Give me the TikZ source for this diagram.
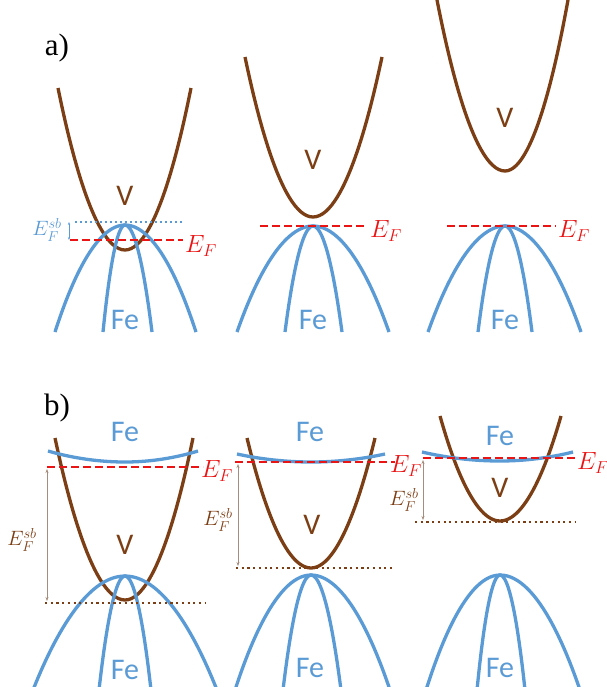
\documentclass[tikz,border=0pt]{standalone}
\usepackage{amsmath}
\usepackage{fontspec}
\setmainfont{Liberation Serif}
\setsansfont{Carlito}
\usetikzlibrary{arrows.meta}
\definecolor{vband}{RGB}{124,62,20}
\definecolor{feband}{RGB}{91,155,213}
\definecolor{fermi}{RGB}{235,20,20}
\definecolor{gapline}{RGB}{165,140,125}

\begin{document}
\begin{tikzpicture}[x=1pt,y=-1pt,
  vcurve/.style={vband, line width=3.3pt},
  fecurve/.style={feband, line width=3.3pt},
  efline/.style={fermi, line width=2.3pt, dash pattern=on 8pt off 4pt},
  sbline/.style={vband, line width=2.3pt, dash pattern=on 2.2pt off 3.5pt},
  bandlabel/.style={font=\sffamily\fontsize{30}{30}\selectfont},
  eflabel/.style={fermi, font=\fontsize{24}{24}\selectfont},
  sblabel/.style={vband, font=\fontsize{22}{22}\selectfont},
  panel/.style={font=\fontsize{31}{31}\selectfont}]
  \useasboundingbox (0,0) rectangle (606,687);

  % Panel labels
  \node[panel] (pa) at (57,48) {a)};
  \node[panel] (pb) at (57,408) {b)};

  % a) left: bands overlap
  \coordinate (a1v) at (125,250);
  \coordinate (a1f) at (125,225);
  \draw[vcurve] (58,88) parabola bend (a1v) (191,88);
  \draw[fecurve] (55,332) parabola bend (a1f) (196,332);
  \draw[fecurve] (103,332) parabola bend (a1f) (152,332);
  \draw[feband, line width=2pt, dash pattern=on 2pt off 3pt] (75,222) -- (182,222);
  \draw[efline] (70,240) -- (183,240);
  \draw[feband, line width=0.6pt, {Stealth[length=3pt]}-{Stealth[length=3pt]}] (69,222) -- (69,240);
  \node[bandlabel, vband] (a1vl) at (125,196) {V};
  \node[bandlabel, feband] (a1fl) at (125,320) {Fe};
  \node[eflabel] (a1ef) at (201,246) {$E_F$};
  \node[feband, font=\fontsize{22}{22}\selectfont] (a1sb) at (47,230) {$E_F^{sb}$};

  % a) middle: bands touch
  \coordinate (a2v) at (313,217);
  \coordinate (a2f) at (313,226);
  \draw[vcurve] (245,57) parabola bend (a2v) (382,57);
  \draw[fecurve] (237,332) parabola bend (a2f) (389,332);
  \draw[fecurve] (285,332) parabola bend (a2f) (342,332);
  \draw[efline] (260,226) -- (366,226);
  \node[bandlabel, vband] (a2vl) at (313,160) {V};
  \node[bandlabel, feband] (a2fl) at (313,320) {Fe};
  \node[eflabel] (a2ef) at (386,231) {$E_F$};

  % a) right: gap
  \coordinate (a3v) at (505,171);
  \coordinate (a3f) at (505,226);
  \draw[vcurve] (437,0) parabola bend (a3v) (568,0);
  \draw[fecurve] (428,332) parabola bend (a3f) (581,332);
  \draw[fecurve] (478,332) parabola bend (a3f) (532,332);
  \draw[efline] (447,226) -- (556,226);
  \node[bandlabel, vband] (a3vl) at (505,118) {V};
  \node[bandlabel, feband] (a3fl) at (505,320) {Fe};
  \node[eflabel] (a3ef) at (574,231) {$E_F$};

  % b) left
  \coordinate (b1v) at (125,600);
  \coordinate (b1f) at (125,576);
  \coordinate (b1s) at (125,462);
  \draw[vcurve] (55,438) parabola bend (b1v) (193,438);
  \draw[fecurve] (48,451) parabola bend (b1s) (198,451);
  \draw[fecurve] (33,690) parabola bend (b1f) (217,690);
  \draw[fecurve] (99,690) parabola bend (b1f) (151,690);
  \draw[efline] (47,467) -- (203,467);
  \draw[sbline] (45,603) -- (205,603);
  \draw[gapline, line width=0.6pt, {Stealth[length=4pt]}-{Stealth[length=4pt]}] (47,469) -- (47,601);
  \node[bandlabel, vband] (b1vl) at (125,545) {V};
  \node[bandlabel, feband] (b1fl) at (125,432) {Fe};
  \node[bandlabel, feband] (b1gl) at (125,670) {Fe};
  \node[eflabel] (b1ef) at (217,471) {$E_F$};
  \node[sblabel] (b1sb) at (22,540) {$E_F^{sb}$};

  % b) middle
  \coordinate (b2v) at (311,568);
  \coordinate (b2f) at (311,575);
  \coordinate (b2s) at (311,462);
  \draw[vcurve] (247,438) parabola bend (b2v) (375,438);
  \draw[fecurve] (237,454) parabola bend (b2s) (385,454);
  \draw[fecurve] (235,690) parabola bend (b2f) (390,690);
  \draw[fecurve] (283,690) parabola bend (b2f) (341,690);
  \draw[efline] (235,462) -- (395,462);
  \draw[sbline] (236,568) -- (395,568);
  \draw[gapline, line width=0.6pt, {Stealth[length=4pt]}-{Stealth[length=4pt]}] (238,464) -- (238,566);
  \node[bandlabel, vband] (b2vl) at (312,525) {V};
  \node[bandlabel, feband] (b2fl) at (310,432) {Fe};
  \node[bandlabel, feband] (b2gl) at (310,668) {Fe};
  \node[eflabel] (b2ef) at (406,466) {$E_F$};
  \node[sblabel] (b2sb) at (218,520) {$E_F^{sb}$};

  % b) right
  \coordinate (b3v) at (500,521);
  \coordinate (b3f) at (500,575);
  \coordinate (b3s) at (500,461);
  \draw[vcurve] (440,416) parabola bend (b3v) (561,416);
  \draw[fecurve] (422,452) parabola bend (b3s) (573,452);
  \draw[fecurve] (426,690) parabola bend (b3f) (580,690);
  \draw[fecurve] (477,690) parabola bend (b3f) (525,690);
  \draw[efline] (423,458) -- (578,458);
  \draw[sbline] (415,522) -- (576,522);
  \draw[gapline, line width=0.6pt, {Stealth[length=4pt]}-{Stealth[length=4pt]}] (423,460) -- (423,520);
  \node[bandlabel, vband] (b3vl) at (500,488) {V};
  \node[bandlabel, feband] (b3fl) at (500,436) {Fe};
  \node[bandlabel, feband] (b3gl) at (500,668) {Fe};
  \node[eflabel] (b3ef) at (593,463) {$E_F$};
  \node[sblabel] (b3sb) at (404,500) {$E_F^{sb}$};
\end{tikzpicture}
\end{document}
